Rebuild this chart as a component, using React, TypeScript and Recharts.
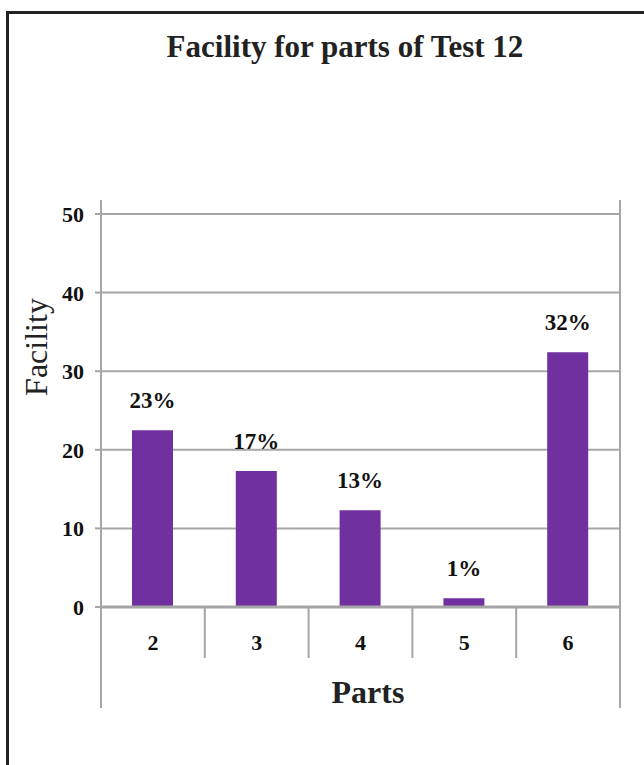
import { BarChart, Bar, XAxis, YAxis, CartesianGrid, LabelList } from 'recharts';

const parts = ['2', '3', '4', '5', '6'];
const facility = [22.5, 17.3, 12.3, 1.1, 32.4];
const facilityLabels = ['23%', '17%', '13%', '1%', '32%'];
const yTicks = [0, 10, 20, 30, 40, 50];

const data = parts.map((p, i) => ({ part: p, facility: facility[i], label: facilityLabels[i] }));

// layout constants
const W = 644;
const H = 765;
const PLOT_LEFT = 101;
const PLOT_RIGHT = 620;
const PLOT_TOP = 214;
const PLOT_BOTTOM = 607;
const BAND = (PLOT_RIGHT - PLOT_LEFT) / parts.length;
const GRID = '#a6a6a6';
const FONT = '"Liberation Serif", "Times New Roman", serif';

function XTick(props: any) {
  const { x, payload, index } = props;
  const left = x - BAND / 2;
  const right = x + BAND / 2;
  const last = index === parts.length - 1;
  return (
    <g>
      {index === 0 ? (
        <line x1={left} y1={PLOT_TOP - 14} x2={left} y2={708} stroke={GRID} strokeWidth={2} />
      ) : (
        <line x1={left} y1={PLOT_BOTTOM} x2={left} y2={658} stroke={GRID} strokeWidth={2} />
      )}
      {last && <line x1={right} y1={PLOT_TOP - 14} x2={right} y2={708} stroke={GRID} strokeWidth={2} />}
      <text x={x} y={650} textAnchor="middle" fontFamily={FONT} fontWeight="bold" fontSize={22} fill="#111">
        {payload.value}
      </text>
    </g>
  );
}

function YTick(props: any) {
  const { y, payload } = props;
  return (
    <g>
      <line x1={PLOT_LEFT - 6} y1={y} x2={PLOT_LEFT} y2={y} stroke={GRID} strokeWidth={2} />
      <text x={84} y={y + 8} textAnchor="end" fontFamily={FONT} fontWeight="bold" fontSize={22} fill="#111">
        {payload.value}
      </text>
    </g>
  );
}

function BarLabel(props: any) {
  const { x, y, width, value } = props;
  return (
    <text x={x + width / 2} y={y - 22} textAnchor="middle" fontFamily={FONT} fontWeight="bold" fontSize={23} fill="#111">
      {value}
    </text>
  );
}

export default function App() {
  return (
    <div style={{ position: 'fixed', left: 0, top: 0, width: W, height: H, overflow: 'hidden', background: '#fff' }}>
      <div
        style={{
          position: 'absolute',
          left: 6,
          top: 11,
          width: W + 20,
          height: H + 20,
          border: '3px solid #222',
          boxSizing: 'border-box',
        }}
      />
      <div
        style={{
          position: 'absolute',
          left: 345,
          top: 47,
          transform: 'translate(-50%, -50%)',
          fontFamily: FONT,
          fontWeight: 'bold',
          fontSize: 31,
          color: '#222',
          whiteSpace: 'nowrap',
        }}
      >
        Facility for parts of Test 12
      </div>
      <div
        style={{
          position: 'absolute',
          left: 36,
          top: 347,
          transform: 'translate(-50%, -50%) rotate(-90deg)',
          fontFamily: FONT,
          fontSize: 32,
          color: '#222',
          whiteSpace: 'nowrap',
        }}
      >
        Facility
      </div>
      <div
        style={{
          position: 'absolute',
          left: 368,
          top: 692,
          transform: 'translate(-50%, -50%)',
          fontFamily: FONT,
          fontWeight: 'bold',
          fontSize: 32,
          color: '#222',
        }}
      >
        Parts
      </div>
      <div style={{ position: 'absolute', left: 0, top: 0 }}>
        <BarChart
          width={W}
          height={H}
          data={data}
          margin={{ top: PLOT_TOP, right: W - PLOT_RIGHT, bottom: 108, left: 51 }}
        >
          <CartesianGrid vertical={false} stroke={GRID} strokeWidth={2} />
          <XAxis
            dataKey="part"
            axisLine={{ stroke: GRID, strokeWidth: 3 }}
            tickLine={false}
            tick={<XTick />}
            height={50}
            interval={0}
          />
          <YAxis
            domain={[0, 50]}
            ticks={yTicks}
            axisLine={false}
            tickLine={false}
            tick={<YTick />}
            width={50}
          />
          <Bar dataKey="facility" fill="#7030a0" barSize={41} isAnimationActive={false}>
            <LabelList dataKey="label" content={<BarLabel />} />
          </Bar>
        </BarChart>
      </div>
    </div>
  );
}
